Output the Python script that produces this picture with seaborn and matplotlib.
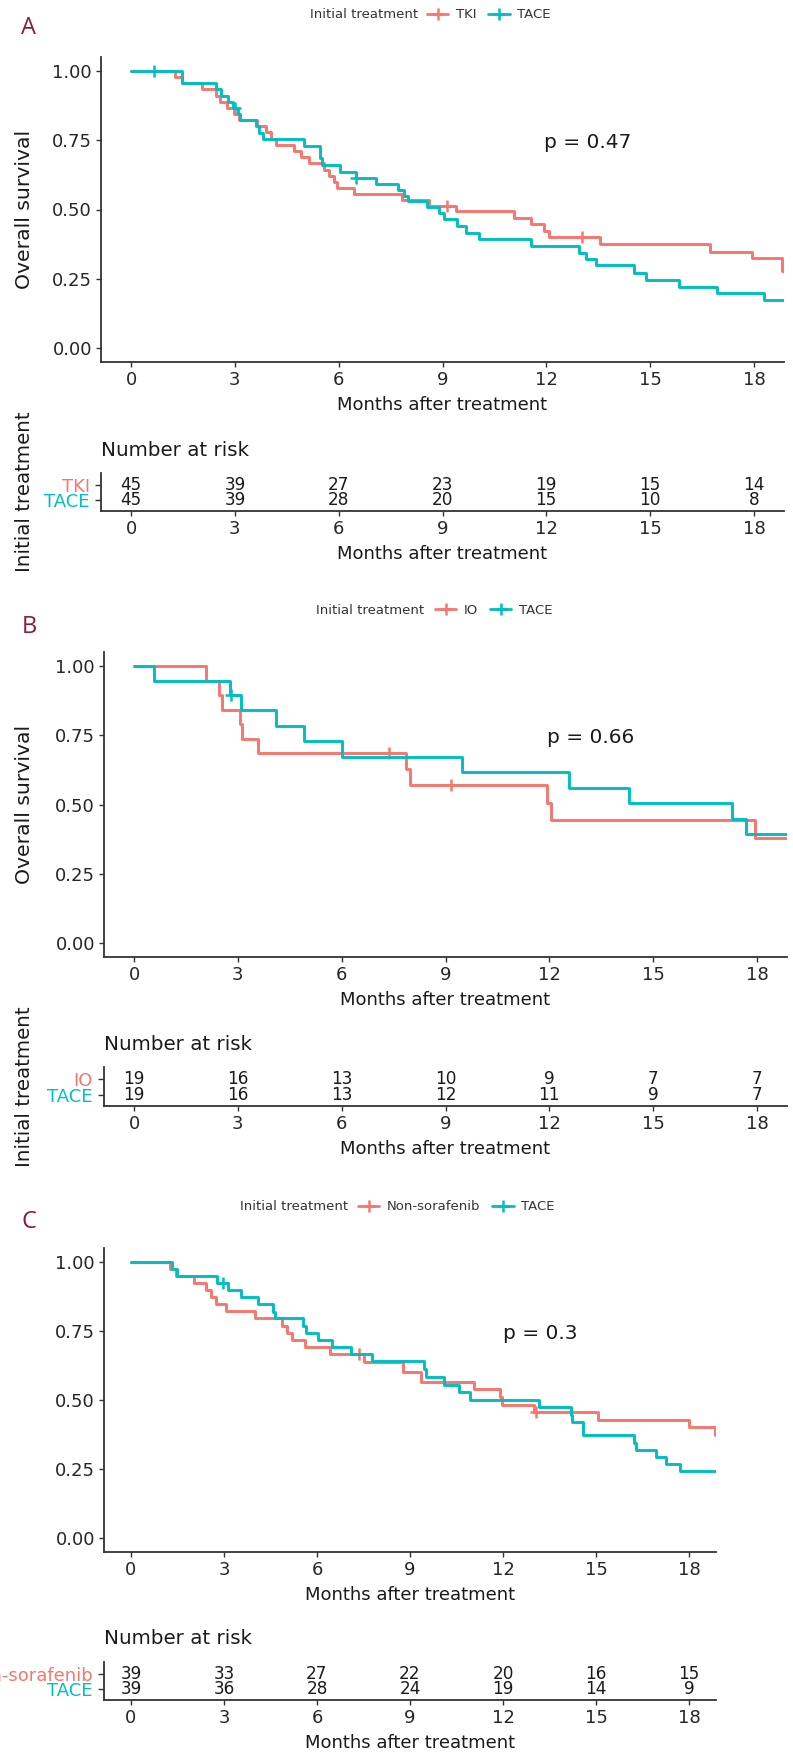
import matplotlib
matplotlib.use("Agg")
import matplotlib.pyplot as plt
import pandas as pd
import seaborn as sns
from matplotlib.lines import Line2D

# --- data ----------------------------------------------------------------
months = [0, 3, 6, 9, 12, 15, 18]

# A: TKI vs TACE
a_names = ["TKI", "TACE"]
a_tki_t = [0, 1.28, 1.48, 2.05, 2.44, 2.58, 2.78, 2.97, 3.11, 3.65, 3.89, 4.03, 4.18,
           4.70, 4.90, 5.14, 5.57, 5.72, 5.86, 5.96, 6.44, 7.84, 8.61, 9.38, 11.07,
           11.55, 11.94, 12.08, 13.55, 16.73, 17.95, 18.82, 18.88]
a_tki_s = [1.000, 0.978, 0.956, 0.933, 0.911, 0.889, 0.867, 0.844, 0.822, 0.800, 0.778,
           0.756, 0.733, 0.711, 0.689, 0.667, 0.644, 0.622, 0.600, 0.578, 0.556, 0.533,
           0.511, 0.494, 0.470, 0.446, 0.424, 0.400, 0.374, 0.348, 0.326, 0.278, 0.278]
a_tace_t = [0, 1.48, 2.45, 2.60, 2.80, 2.95, 3.10, 3.15, 3.60, 3.70, 3.80, 5.00, 5.45,
            5.52, 6.05, 6.49, 7.07, 7.70, 7.90, 8.00, 8.56, 8.90, 9.05, 9.43, 9.67,
            10.06, 11.55, 12.95, 13.14, 13.43, 14.53, 14.87, 15.83, 16.94, 18.29, 18.88]
a_tace_s = [1.000, 0.956, 0.933, 0.911, 0.889, 0.867, 0.845, 0.822, 0.800, 0.776, 0.753,
            0.730, 0.684, 0.660, 0.636, 0.612, 0.592, 0.570, 0.548, 0.530, 0.510, 0.488,
            0.466, 0.440, 0.416, 0.392, 0.370, 0.344, 0.322, 0.300, 0.272, 0.245, 0.222,
            0.200, 0.173, 0.173]
a_tki_cens_t = [9.14, 13.04]
a_tki_cens_s = [0.511, 0.400]
a_tace_cens_t = [0.66, 3.00, 6.50]
a_tace_cens_s = [1.000, 0.867, 0.612]
a_risk_tki = [45, 39, 27, 23, 19, 15, 14]
a_risk_tace = [45, 39, 28, 20, 15, 10, 8]
a_p = "p = 0.47"

# B: IO vs TACE
b_names = ["IO", "TACE"]
b_io_t = [0, 2.07, 2.46, 2.55, 3.05, 3.12, 3.57, 7.85, 7.98, 11.94, 12.06, 17.94, 18.88]
b_io_s = [1.0, 0.947, 0.895, 0.842, 0.789, 0.737, 0.684, 0.627, 0.570, 0.507, 0.443,
          0.380, 0.380]
b_tace_t = [0, 0.57, 2.78, 3.10, 4.09, 4.92, 6.00, 9.49, 12.58, 14.30, 17.27, 17.68, 18.88]
b_tace_s = [1.0, 0.947, 0.895, 0.840, 0.784, 0.728, 0.672, 0.616, 0.560, 0.504, 0.448,
            0.392, 0.392]
b_io_cens_t = [7.37, 9.17]
b_io_cens_s = [0.684, 0.570]
b_tace_cens_t = [2.80]
b_tace_cens_s = [0.895]
b_risk_io = [19, 16, 13, 10, 9, 7, 7]
b_risk_tace = [19, 16, 13, 12, 11, 9, 7]
b_p = "p = 0.66"

# C: Non-sorafenib vs TACE
c_names = ["Non-sorafenib", "TACE"]
c_ns_t = [0, 1.26, 1.44, 2.04, 2.42, 2.58, 2.74, 3.07, 3.99, 4.86, 5.02, 5.18, 5.62,
          6.43, 7.52, 8.76, 9.34, 11.06, 11.90, 11.98, 13.00, 15.05, 18.00, 18.83, 18.88]
c_ns_s = [1.0, 0.974, 0.949, 0.923, 0.897, 0.872, 0.846, 0.821, 0.795, 0.769, 0.744,
          0.718, 0.692, 0.667, 0.639, 0.600, 0.565, 0.538, 0.510, 0.483, 0.456, 0.429,
          0.401, 0.373, 0.373]
c_tace_t = [0, 1.33, 1.50, 2.78, 3.12, 3.56, 4.10, 4.59, 4.64, 5.56, 5.64, 6.03, 6.49,
            7.11, 7.79, 9.45, 9.50, 10.09, 10.58, 10.95, 13.17, 14.19, 14.24, 14.57,
            16.24, 16.30, 16.94, 17.26, 17.70, 18.88]
c_tace_s = [1.0, 0.974, 0.949, 0.923, 0.897, 0.872, 0.846, 0.820, 0.795, 0.769, 0.744,
            0.718, 0.692, 0.667, 0.640, 0.612, 0.585, 0.556, 0.528, 0.500, 0.474, 0.447,
            0.420, 0.372, 0.345, 0.318, 0.294, 0.268, 0.242, 0.242]
c_ns_cens_t = [7.35, 13.08]
c_ns_cens_s = [0.667, 0.456]
c_tace_cens_t = [2.96]
c_tace_cens_s = [0.923]
c_risk_ns = [39, 33, 27, 22, 20, 16, 15]
c_risk_tace = [39, 36, 28, 24, 19, 14, 9]
c_p = "p = 0.3"

RED = "#F8766D"
TEAL = "#00BFC4"
INK = "#333333"
W, H = 793, 1762

sns.set_theme(style="ticks")
plt.rcParams["font.family"] = ["DejaVu Sans"]


def box(left, top, right, bottom):
    # pixel box -> figure fraction
    return [left / W, 1 - bottom / H, (right - left) / W, (bottom - top) / H]


def style_axis(ax):
    sns.despine(ax=ax)
    for s in ("left", "bottom"):
        ax.spines[s].set_color(INK)
        ax.spines[s].set_linewidth(1.3)
    ax.tick_params(colors=INK, labelcolor="#262626", length=3.5, width=1.0,
                   labelsize=13, pad=3)
    ax.set_xlim(-0.87, 18.87)
    ax.set_xticks(months)
    ax.set_xlabel("Months after treatment", fontsize=13, color="#1a1a1a", labelpad=5)


def panel(fig, letter, names, curves, censors, risk, pval,
          main_px, risk_px, legend_y, title_right, leg_left, with_ylab):
    pal = [RED, TEAL]

    # survival curves
    ax = fig.add_axes(box(*main_px))
    df = pd.concat([pd.DataFrame({"time": t, "surv": s, "group": n})
                    for n, (t, s) in zip(names, curves)])
    sns.lineplot(data=df, x="time", y="surv", hue="group", hue_order=names,
                 palette=pal, drawstyle="steps-post", estimator=None,
                 linewidth=2.1, legend=False, ax=ax)
    cdf = pd.concat([pd.DataFrame({"time": t, "surv": s, "group": n})
                     for n, (t, s) in zip(names, censors)])
    sns.scatterplot(data=cdf, x="time", y="surv", hue="group", hue_order=names,
                    palette=pal, marker="+", s=75, linewidth=1.8, legend=False, ax=ax)
    style_axis(ax)
    ax.set_ylim(-0.05, 1.05)
    ax.set_yticks([0, 0.25, 0.5, 0.75, 1.0])
    ax.set_yticklabels(["0.00", "0.25", "0.50", "0.75", "1.00"])
    ax.set_ylabel("")
    ax.text(13.2, 0.74, pval, ha="center", va="center", fontsize=14.5, color="#1a1a1a")

    # legend on top
    fig.text(title_right / W, 1 - legend_y / H, "Initial treatment", ha="right",
             va="center", fontsize=9.5, color=INK)
    handles = [Line2D([0], [0], color=c, lw=2, marker="+", markersize=9,
                      markeredgewidth=1.8) for c in pal]
    fig.legend(handles, names, loc="center left", ncol=2, frameon=False,
               bbox_to_anchor=(leg_left / W, 1 - legend_y / H), fontsize=9.5,
               handlelength=1.6, handletextpad=0.6, columnspacing=0.9,
               borderpad=0, borderaxespad=0, labelcolor=INK)

    fig.text(29 / W, 1 - letter[1] / H, letter[0], ha="center", va="center",
             fontsize=17, color="#8E1B3E", family=["Open Sans", "DejaVu Sans"])

    # number at risk table
    rx = fig.add_axes(box(*risk_px))
    rows = [2, 1]
    for row, counts in zip(rows, risk):
        for t, n in zip(months, counts):
            rx.text(t, row, str(n), ha="center", va="center", fontsize=12.2,
                    color="#1a1a1a")
    style_axis(rx)
    rx.set_ylim(0.3, 2.8)
    rx.set_yticks(rows)
    rx.set_yticklabels(names, fontsize=13)
    rx.tick_params(axis="y", length=4, pad=4)
    for lab, c in zip(rx.get_yticklabels(), pal):
        lab.set_color(c)
    fig.text(risk_px[0] / W, 1 - (risk_px[1] - 23) / H, "Number at risk",
             ha="left", va="center", fontsize=14.3, color="#1a1a1a")

    if with_ylab:
        fig.text(25 / W, 1 - (main_px[1] + main_px[3]) / 2 / H, "Overall survival",
                 rotation=90, ha="center", va="center", fontsize=14.7, color="#1a1a1a")
        fig.text(25 / W, 1 - (risk_px[1] + risk_px[3]) / 2 / H, "Initial treatment",
                 rotation=90, ha="center", va="center", fontsize=14.3, color="#1a1a1a")


fig = plt.figure(figsize=(W / 100, H / 100), dpi=100)

panel(fig, ("A", 28), a_names,
      [(a_tki_t, a_tki_s), (a_tace_t, a_tace_s)],
      [(a_tki_cens_t, a_tki_cens_s), (a_tace_cens_t, a_tace_cens_s)],
      [a_risk_tki, a_risk_tace], a_p,
      (101, 57, 784, 362), (101, 473, 784, 511), 15, 418, 427, True)

panel(fig, ("B", 627), b_names,
      [(b_io_t, b_io_s), (b_tace_t, b_tace_s)],
      [(b_io_cens_t, b_io_cens_s), (b_tace_cens_t, b_tace_cens_s)],
      [b_risk_io, b_risk_tace], b_p,
      (104, 652, 787, 957), (104, 1067, 787, 1106), 610, 424, 435, True)

panel(fig, ("C", 1222), c_names,
      [(c_ns_t, c_ns_s), (c_tace_t, c_tace_s)],
      [(c_ns_cens_t, c_ns_cens_s), (c_tace_cens_t, c_tace_cens_s)],
      [c_risk_ns, c_risk_tace], c_p,
      (104, 1248, 716, 1552), (104, 1662, 716, 1700), 1207, 348, 358, False)

fig.savefig("out.png", dpi=100)
plt.close(fig)
